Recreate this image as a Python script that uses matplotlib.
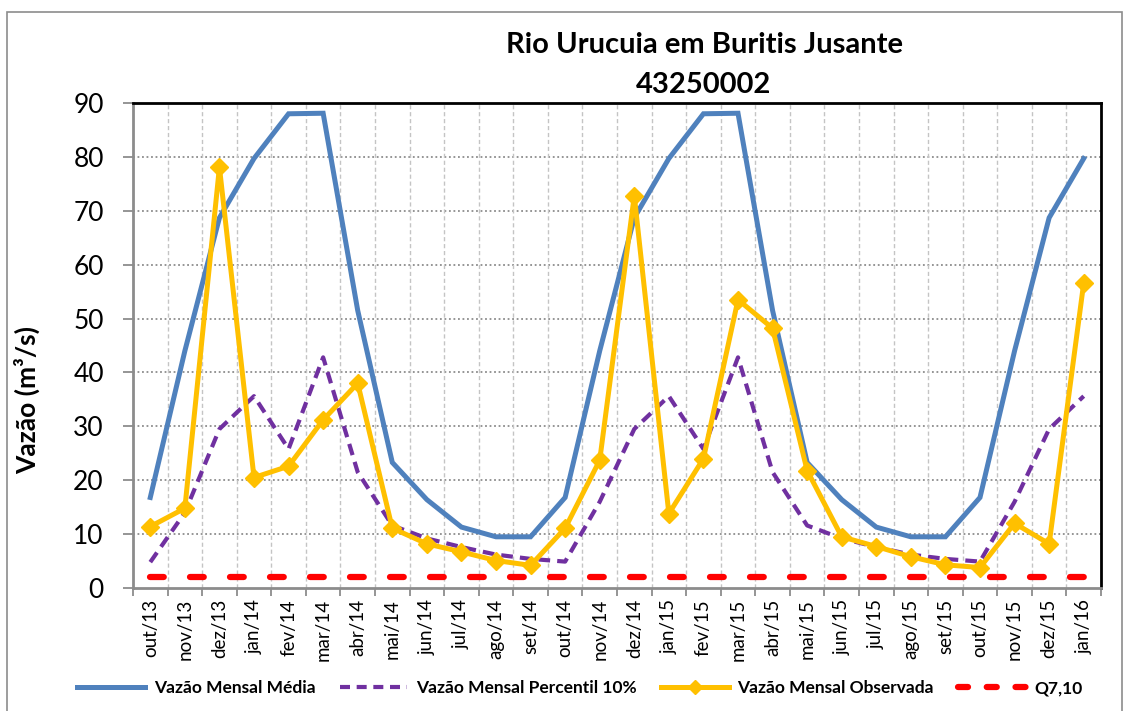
import matplotlib
matplotlib.use("Agg")
import matplotlib.pyplot as plt
from matplotlib.lines import Line2D
from matplotlib.patches import Rectangle
import numpy as np

months = ["out/13", "nov/13", "dez/13", "jan/14", "fev/14", "mar/14", "abr/14",
          "mai/14", "jun/14", "jul/14", "ago/14", "set/14", "out/14", "nov/14",
          "dez/14", "jan/15", "fev/15", "mar/15", "abr/15", "mai/15", "jun/15",
          "jul/15", "ago/15", "set/15", "out/15", "nov/15", "dez/15", "jan/16"]

media = [16.8, 44.0, 68.7, 79.7, 88.0, 88.1, 51.5, 23.3, 16.4, 11.3, 9.5, 9.5,
         16.8, 44.0, 68.7, 79.7, 88.0, 88.1, 51.5, 23.3, 16.4, 11.3, 9.5, 9.5,
         16.8, 44.0, 68.7, 79.7]

p10 = [4.8, 14.0, 29.5, 35.6, 25.8, 42.8, 21.5, 11.6, 9.2, 7.6, 6.2, 5.4,
       4.9, 16.0, 29.5, 35.6, 25.8, 42.8, 21.5, 11.6, 9.2, 7.6, 6.2, 5.4,
       4.9, 16.0, 29.5, 35.6]

observada = [11.4, 14.8, 78.1, 20.5, 22.6, 31.2, 38.0, 11.1, 8.2, 6.7, 5.1, 4.2,
             11.1, 23.7, 72.8, 13.8, 24.0, 53.5, 48.2, 21.8, 9.5, 7.7, 5.8, 4.3,
             3.8, 12.0, 8.2, 56.6]

q710 = [2.1] * len(months)

FONT = ["Lato", "DejaVu Sans"]
plt.rcParams['font.family'] = FONT

fig = plt.figure(figsize=(11.31, 7.11), dpi=100)
ax = fig.add_axes([133/1131, 1-588/711, (1101-133)/1131, (588-103)/711])

x = np.arange(len(months))

# grid
for yv in range(10, 90, 10):
    ax.axhline(yv, color="#8c8c8c", lw=1.3, ls=(0, (1, 1.5)), zorder=1)
for b in range(1, len(months)):
    ax.axvline(b - 0.5, color="#c4c4c4", lw=1.0, ls=(0, (3, 2)), zorder=1)

ax.plot(x, q710, color="#FF0000", lw=4.5, dashes=(2.2, 4.2),
        dash_capstyle="round", zorder=2)
ax.plot(x, media, color="#4F81BD", lw=3.6, solid_joinstyle="miter", zorder=3)
ax.plot(x, p10, color="#7030A0", lw=3.0, dashes=(2.8, 1.7), zorder=4)
ax.plot(x, observada, color="#FFC000", lw=3.6, marker="D", ms=9,
        markerfacecolor="#FFC000", markeredgecolor="#FFC000", zorder=5)

ax.set_xlim(-0.5, len(months) - 0.5)
ax.set_ylim(0, 90)
ax.set_yticks(range(0, 91, 10))
ax.tick_params(axis="y", labelsize=19, length=7, width=1.3, color="#8c8c8c",
               pad=14)

ax.set_xticks(x)
ax.set_xticklabels(months, rotation=90, fontsize=13.5)
ax.set_xticks(np.arange(-0.5, len(months), 1), minor=True)
ax.tick_params(axis="x", which="major", length=0, pad=8)
ax.tick_params(axis="x", which="minor", length=6, width=1.3, color="#8c8c8c")

for s in ["left", "bottom"]:
    ax.spines[s].set_color("#8c8c8c")
    ax.spines[s].set_linewidth(2)
for s in ["top", "right"]:
    ax.spines[s].set_color("black")
    ax.spines[s].set_linewidth(2)

ax.set_ylabel("Vazão (m³/s)", fontsize=19, fontweight="bold")
ax.yaxis.set_label_coords((40 - 133) / (1101 - 133), (588 - 400) / (588 - 103))

fig.text(704/1131, 1-45/711, "Rio Urucuia em Buritis Jusante", ha="center",
         va="center", fontsize=21, fontweight="bold")
fig.text(704/1131, 1-85/711, "43250002", ha="center", va="center",
         fontsize=21, fontweight="bold")

handles = [
    Line2D([], [], color="#4F81BD", lw=3.6),
    Line2D([], [], color="#7030A0", lw=3.0, dashes=(2.4, 1.6)),
    Line2D([], [], color="#FFC000", lw=3.6, marker="D", ms=7),
    Line2D([], [], color="#FF0000", lw=4.5, dashes=(1.6, 3.0), dash_capstyle="round"),
]
labels = ["Vazão Mensal Média", "Vazão Mensal Percentil 10%",
          "Vazão Mensal Observada", "Q7,10"]
leg = fig.legend(handles, labels, loc="center", bbox_to_anchor=(580/1131, 1-688/711),
                 ncol=4, frameon=False, handlelength=3.9, columnspacing=1.4,
                 handletextpad=0.5, prop={"family": FONT, "weight": "bold", "size": 12.5})

fig.patches.append(Rectangle((7/1131, -0.01), (1122-7)/1131, 1-12/711+0.01,
                             transform=fig.transFigure, fill=False,
                             edgecolor="#8c8c8c", lw=1.2))

fig.savefig("out.png", dpi=100)
